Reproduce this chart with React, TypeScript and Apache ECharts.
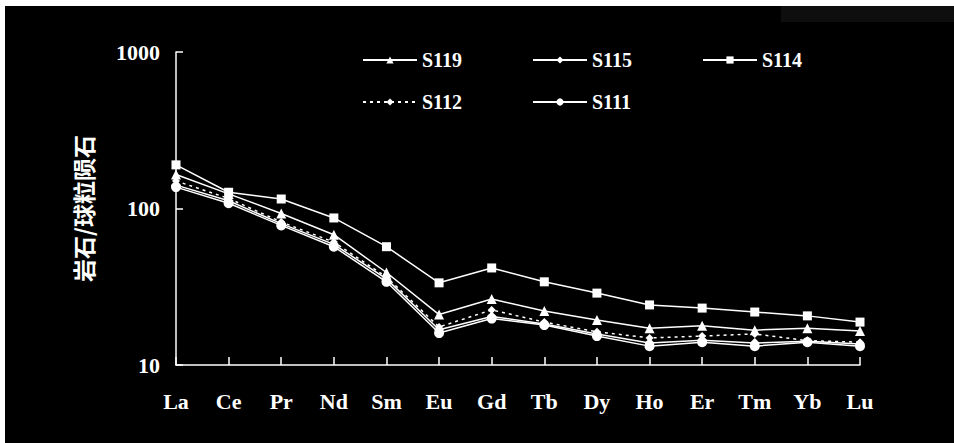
import React, { useEffect, useRef } from "react";
import * as echarts from "echarts";

const categories = ["La", "Ce", "Pr", "Nd", "Sm", "Eu", "Gd", "Tb", "Dy", "Ho", "Er", "Tm", "Yb", "Lu"];
const s119 = [165, 124, 93, 68, 39, 21, 26.4, 22.1, 19.4, 17.2, 17.8, 16.7, 17.2, 16.5];
const s115 = [141, 112, 80, 59, 35.5, 16.8, 20.4, 18.3, 15.8, 13.8, 14.4, 13.8, 14.2, 13.6];
const s114 = [190, 127, 115, 87, 57, 33.5, 41.7, 34, 28.8, 24.2, 23.1, 21.8, 20.6, 18.8];
const s112 = [150, 116, 82, 61, 36.5, 17.5, 22.5, 18.8, 16.3, 14.9, 15.3, 15.8, 14.3, 14];
const s111 = [137, 108, 78, 57, 34, 16, 19.8, 18, 15.3, 13.2, 14, 13.2, 14, 13.2];
const yTicks = [10, 100, 1000];

const serif = "Liberation Serif";

export default function App() {
  const ref = useRef<HTMLDivElement>(null);
  useEffect(() => {
    document.body.style.margin = "0";
    const chart = echarts.init(ref.current!, null, { renderer: "svg" });
    const line = (name: string, data: number[], symbol: string, size: number, dashed = false) => ({
      name,
      type: "line",
      data,
      symbol,
      symbolSize: size,
      lineStyle: { color: "#fff", width: 1.5, type: dashed ? [3, 4] : "solid" },
      itemStyle: { color: "#fff" },
    });
    const legend = (name: string, left: number, top: number) => ({
      data: [name],
      left,
      top,
      padding: 0,
      itemWidth: 54,
      itemHeight: 9,
      itemGap: 0,
      textStyle: { color: "#fff", fontSize: 20, fontFamily: serif, fontWeight: "bold" },
    });
    chart.setOption({
      animation: false,
      backgroundColor: "#000",
      graphic: [
        { type: "rect", shape: { x: 0, y: 0, width: 954, height: 6 }, style: { fill: "#fff" }, silent: true },
        { type: "rect", shape: { x: 0, y: 0, width: 5, height: 443 }, style: { fill: "#fff" }, silent: true },
        { type: "rect", shape: { x: 781, y: 6, width: 173, height: 16 }, style: { fill: "#0e0e0e" }, silent: true },
      ],
      legend: [
        legend("S119", 362, 50),
        legend("S115", 532, 50),
        legend("S114", 702, 50),
        legend("S112", 362, 92),
        legend("S111", 532, 92),
      ],
      grid: { left: 176, right: 94, top: 52, bottom: 78 },
      xAxis: {
        type: "category",
        data: categories,
        boundaryGap: false,
        axisLine: { lineStyle: { color: "#fff", width: 1.5 } },
        axisTick: { inside: true, length: 8, lineStyle: { color: "#fff", width: 1.5 } },
        axisLabel: { color: "#fff", fontSize: 22, fontFamily: serif, fontWeight: "bold", margin: 25 },
      },
      yAxis: {
        type: "log",
        logBase: 10,
        min: yTicks[0],
        max: yTicks[yTicks.length - 1],
        name: "岩石/球粒陨石",
        nameLocation: "middle",
        nameRotate: 90,
        nameGap: 82,
        nameTextStyle: { color: "#fff", fontSize: 23, fontWeight: "bold", fontFamily: "Noto Sans CJK SC" },
        axisLine: { show: true, lineStyle: { color: "#fff", width: 1.5 } },
        axisTick: { show: true, inside: true, length: 7, lineStyle: { color: "#fff", width: 1.5 } },
        splitLine: { show: false },
        axisLabel: {
          color: "#fff",
          fontSize: 22,
          fontFamily: serif,
          fontWeight: "bold",
          margin: 16,
          formatter: (v: number) => String(Math.round(v)),
        },
      },
      series: [
        line("S119", s119, "triangle", 10),
        line("S115", s115, "diamond", 10),
        line("S114", s114, "rect", 9),
        line("S112", s112, "diamond", 8, true),
        line("S111", s111, "circle", 10),
      ],
    });
    return () => chart.dispose();
  }, []);
  return <div ref={ref} style={{ width: 954, height: 443 }} />;
}
